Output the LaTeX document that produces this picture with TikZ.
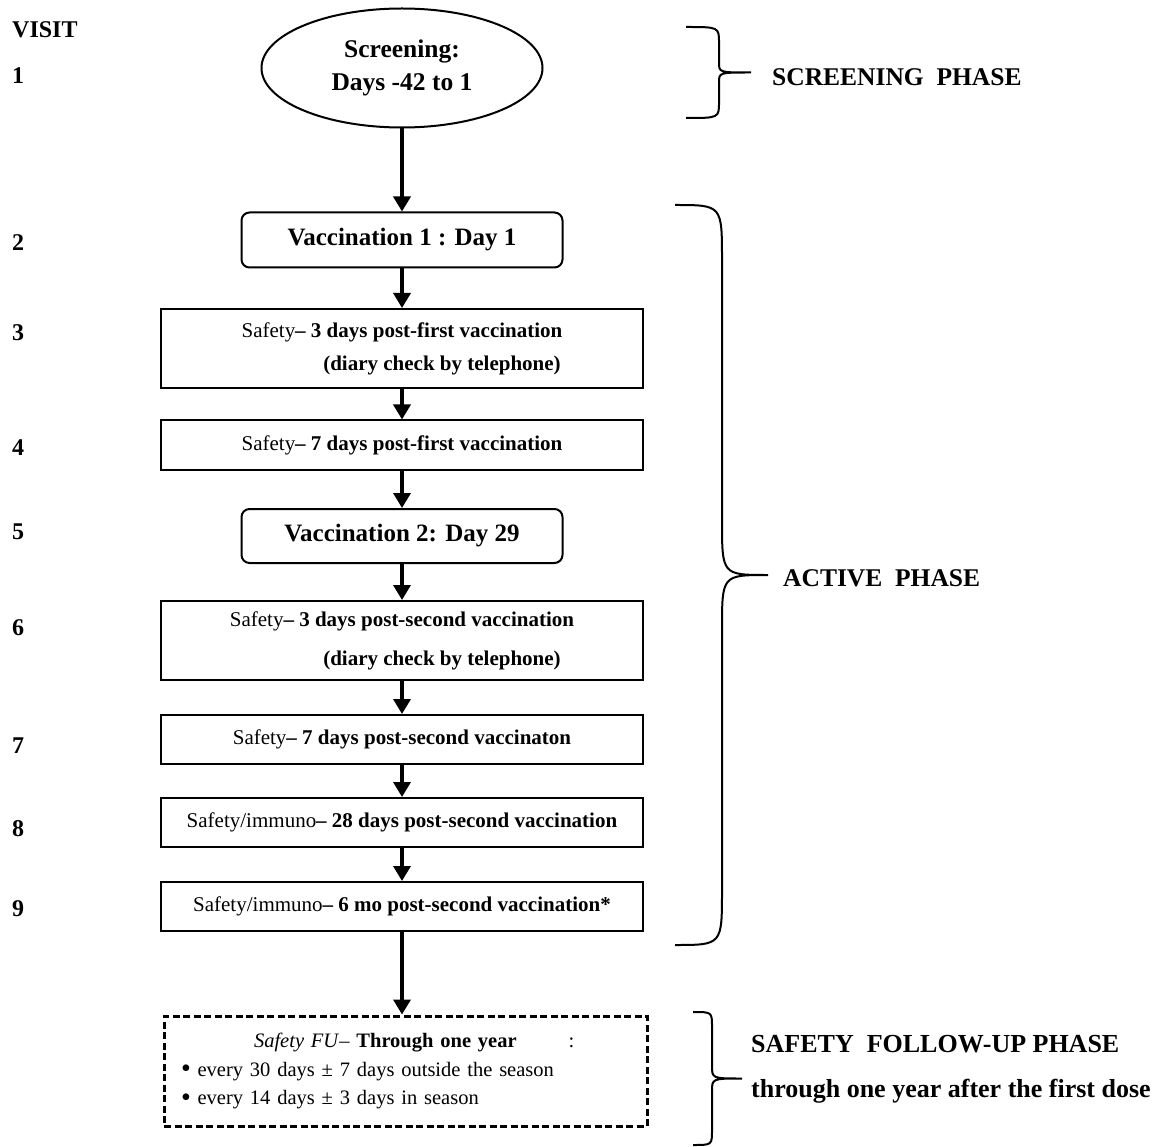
\documentclass[tikz,border=0pt]{standalone}
\usepackage{fontspec}
\setmainfont{Liberation Serif}
\usetikzlibrary{shapes.geometric,arrows.meta}

% curly brace: top y, bottom y, end x, spine x, tip x, end radius, tip radius
\newcommand{\phasebrace}[7]{%
  \draw[bracestyle] (#3,#1) .. controls (#4,#1) .. (#4,#1+#6)
    -- (#4,{(#1+#2)/2-#7}) .. controls (#4,{(#1+#2)/2}) .. (#5,{(#1+#2)/2})
    .. controls (#4,{(#1+#2)/2}) .. (#4,{(#1+#2)/2+#7})
    -- (#4,#2-#6) .. controls (#4,#2) .. (#3,#2);
}
\newcommand{\fubullet}{\raisebox{-1.5pt}{\fontsize{28}{28}\selectfont\textbullet}}

\tikzset{
  flowarrow/.style={-{Triangle[length=15pt,width=17pt]}, line width=3.5pt},
  stepbox/.style={draw, line width=2pt, minimum width=482pt, minimum height=49pt,
    inner sep=0pt, align=center, font=\fontsize{21}{33}\selectfont},
  tallbox/.style={stepbox, minimum height=79pt},
  vaccbox/.style={draw, line width=2pt, rounded corners=8pt, minimum width=321pt,
    minimum height=55pt, font=\fontsize{25}{29}\selectfont\bfseries},
  fubox/.style={draw, line width=3pt, dash pattern=on 7pt off 3.5pt, minimum width=483pt,
    minimum height=110pt, inner xsep=17pt, text width=449pt, align=left,
    font=\fontsize{20.5}{28.5}\selectfont},
  visitlabel/.style={anchor=west, inner xsep=0pt, font=\fontsize{24}{29}\selectfont\bfseries},
  phaselabel/.style={anchor=west, inner xsep=0pt, align=left, font=\fontsize{25.5}{45}\selectfont\bfseries},
  bracestyle/.style={line width=2pt}
}

\begin{document}
\begin{tikzpicture}[x=1pt, y=-1pt]
    \useasboundingbox (0,0) rectangle (1162,1147);

    % visit numbers
    \node[visitlabel] (visit) at (12,30) {VISIT};
    \foreach \n/\y in {1/76,2/243,3/333,4/448,5/532,6/628,7/746,8/829,9/909}
        \node[visitlabel] (v\n) at (12,\y) {\n};

    % flow
    \node[ellipse, draw, line width=2pt, minimum width=281pt, minimum height=119pt, inner sep=0pt,
          align=center, font=\fontsize{25.5}{33}\selectfont\bfseries] (screen) at (402,68)
          {Screening:\\Days -42 to 1};
    \node[vaccbox] (vacc1) at (402,240) {Vaccination 1 : Day 1};
    \node[tallbox] (safe3) at (402,348.5)
          {Safety\textbf{– 3 days post-first vaccination}\\\hspace*{80pt}\textbf{(diary check by telephone)}};
    \node[stepbox] (safe7) at (402,445) {Safety\textbf{– 7 days post-first vaccination}};
    \node[vaccbox, minimum height=54pt] (vacc2) at (402,536) {Vaccination 2: Day 29};
    \node[tallbox, font=\fontsize{21}{39}\selectfont] (safe3b) at (402,640.5)
          {Safety\textbf{– 3 days post-second vaccination}\\\hspace*{80pt}\textbf{(diary check by telephone)}};
    \node[stepbox] (safe7b) at (402,739.5) {Safety\textbf{– 7 days post-second vaccinaton}};
    \node[stepbox] (immuno28) at (402,822.5) {Safety/immuno\textbf{– 28 days post-second vaccination}};
    \node[stepbox] (immuno6) at (402,906.5) {Safety/immuno\textbf{– 6 mo post-second vaccination*}};
    \node[fubox] (fu) at (405.5,1071)
          {\hspace*{73pt}\textit{Safety FU}– \textbf{Through one year}\hspace{52pt}:\\
           \fubullet{} every 30 days ± 7 days outside the season\\
           \fubullet{} every 14 days ± 3 days in season};

    \draw[flowarrow] (screen.south) -- (vacc1.north);
    \draw[flowarrow] (vacc1) -- (safe3);
    \draw[flowarrow] (safe3) -- (safe7);
    \draw[flowarrow] (safe7) -- (vacc2);
    \draw[flowarrow] (vacc2) -- (safe3b);
    \draw[flowarrow] (safe3b) -- (safe7b);
    \draw[flowarrow] (safe7b) -- (immuno28);
    \draw[flowarrow] (immuno28) -- (immuno6);
    \draw[flowarrow] (immuno6.south) -- (immuno6.south |- fu.north);

    % phases
    \phasebrace{27}{118}{686}{719}{751}{16}{10}
    \node[phaselabel] (scrphase) at (772,77) {SCREENING\ \ PHASE};
    \phasebrace{205}{945}{675}{722}{768}{55}{55}
    \node[phaselabel] (actphase) at (783,578) {ACTIVE\ \ PHASE};
    \phasebrace{1012}{1145}{693}{712}{742}{15}{13}
    \node[phaselabel, font=\fontsize{26}{45}\selectfont\bfseries] (fuphase) at (751,1069.5)
          {SAFETY\ \ FOLLOW-UP PHASE\\through one year after the first dose};
\end{tikzpicture}
\end{document}
